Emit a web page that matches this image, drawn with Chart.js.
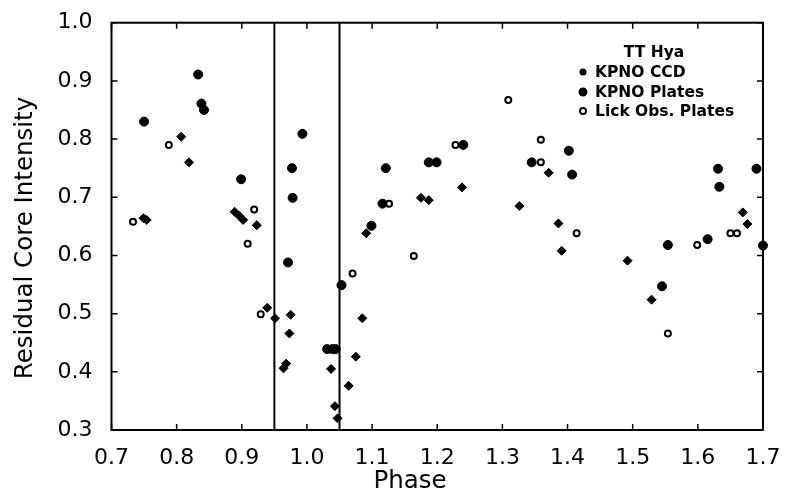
<!DOCTYPE html>
<html>
<head>
<meta charset="utf-8">
<script src="https://cdn.jsdelivr.net/npm/chart.js@4/dist/chart.umd.min.js"></script>
<style>
  html, body { margin: 0; padding: 0; background: #fff; }
  #wrap { width: 787px; height: 501px; }
</style>
</head>
<body>
<div id="wrap"><canvas id="tthya" width="787" height="501"></canvas></div>
<script>
// Datos (fase, intensidad residual del nucleo)
const ccdPhase = [0.749, 0.754, 0.807, 0.819, 0.889, 0.896, 0.902, 0.923, 0.939, 0.951,
  0.975, 0.973, 0.964, 0.968, 1.037, 1.043, 1.047, 1.085, 1.075, 1.064,
  1.091, 1.175, 1.187, 1.238, 1.326, 1.371, 1.386, 1.391, 1.492, 1.529,
  1.669, 1.676];
const ccdIntensity = [0.664, 0.661, 0.804, 0.760, 0.675, 0.668, 0.661, 0.652, 0.510, 0.492,
  0.498, 0.466, 0.406, 0.414, 0.405, 0.341, 0.320, 0.492, 0.426, 0.376,
  0.638, 0.699, 0.695, 0.717, 0.685, 0.742, 0.655, 0.608, 0.591, 0.524,
  0.674, 0.654];

const platePhase = [0.750, 0.833, 0.838, 0.842, 0.899, 0.993, 0.977, 0.978, 0.971, 1.031,
  1.039, 1.044, 1.053, 1.099, 1.121, 1.116, 1.187, 1.199, 1.240, 1.345,
  1.402, 1.407, 1.554, 1.545, 1.615, 1.631, 1.633, 1.690, 1.700];
const plateIntensity = [0.830, 0.911, 0.861, 0.850, 0.731, 0.809, 0.750, 0.699, 0.588, 0.439,
  0.439, 0.439, 0.549, 0.651, 0.750, 0.689, 0.760, 0.760, 0.790, 0.760,
  0.780, 0.739, 0.618, 0.547, 0.628, 0.749, 0.718, 0.749, 0.617];

const lickPhase = [0.733, 0.788, 0.919, 0.909, 0.929, 1.070, 1.126, 1.164, 1.228, 1.309,
  1.359, 1.359, 1.414, 1.554, 1.599, 1.650, 1.660];
const lickIntensity = [0.658, 0.790, 0.679, 0.620, 0.499, 0.569, 0.689, 0.599, 0.790, 0.867,
  0.799, 0.760, 0.638, 0.466, 0.618, 0.638, 0.638];

const seriesNames = ["KPNO CCD", "KPNO Plates", "Lick Obs. Plates"];
const legendTitle = "TT Hya";
const eclipsePhases = [0.95, 1.05]; // lineas verticales
const xTicks = [0.7, 0.8, 0.9, 1.0, 1.1, 1.2, 1.3, 1.4, 1.5, 1.6, 1.7];
const yTicks = [0.3, 0.4, 0.5, 0.6, 0.7, 0.8, 0.9, 1.0];
const xTitle = "Phase";
const yTitle = "Residual Core Intensity";

const FONT = "'DejaVu Sans', sans-serif";

const toPoints = (xs, ys) => xs.map((v, i) => ({ x: v, y: ys[i] }));

// Marco, marcas hacia dentro, titulos y leyenda
const framePlugin = {
  id: "framePlugin",
  afterDraw(chart) {
    const { ctx, chartArea: a, scales } = chart;
    const x = scales.x, y = scales.y;
    ctx.save();
    ctx.strokeStyle = "#000";
    ctx.lineWidth = 2;
    ctx.strokeRect(a.left, a.top, a.right - a.left, a.bottom - a.top);

    ctx.lineWidth = 1.5;
    ctx.beginPath();
    xTicks.forEach(v => {
      const px = x.getPixelForValue(v);
      ctx.moveTo(px, a.bottom); ctx.lineTo(px, a.bottom - 6);
      ctx.moveTo(px, a.top); ctx.lineTo(px, a.top + 6);
    });
    yTicks.forEach(v => {
      const py = y.getPixelForValue(v);
      ctx.moveTo(a.left, py); ctx.lineTo(a.left + 6, py);
      ctx.moveTo(a.right, py); ctx.lineTo(a.right - 6, py);
    });
    ctx.stroke();

    // titulos de los ejes
    ctx.fillStyle = "#000";
    ctx.font = "24.5px " + FONT;
    ctx.textAlign = "center";
    ctx.textBaseline = "alphabetic";
    ctx.fillText(xTitle, 410, 488);
    ctx.save();
    ctx.translate(32, 238);
    ctx.rotate(-Math.PI / 2);
    ctx.fillText(yTitle, 0, 0);
    ctx.restore();

    // leyenda
    ctx.font = "bold 15.5px " + FONT;
    ctx.textAlign = "center";
    ctx.textBaseline = "middle";
    ctx.fillText(legendTitle, 654, 53);
    ctx.textAlign = "left";
    const rows = [72, 92, 111];
    seriesNames.forEach((name, i) => {
      const my = rows[i];
      ctx.beginPath();
      if (i === 0) {
        ctx.arc(583, my, 3.5, 0, Math.PI * 2); ctx.fill();
      } else if (i === 1) {
        ctx.arc(583, my, 4.5, 0, Math.PI * 2); ctx.fill();
      } else {
        ctx.lineWidth = 2;
        ctx.arc(583, my, 3, 0, Math.PI * 2); ctx.stroke();
      }
      ctx.fillText(name, 595, my + 1);
    });
    ctx.restore();
  }
};

const datasets = [
  {
    label: seriesNames[0],
    data: toPoints(ccdPhase, ccdIntensity),
    pointStyle: "rectRot",
    pointRadius: 4.5,
    backgroundColor: "#000",
    borderColor: "#000",
    borderWidth: 1,
    clip: false
  },
  {
    label: seriesNames[1],
    data: toPoints(platePhase, plateIntensity),
    pointStyle: "circle",
    pointRadius: 4.5,
    backgroundColor: "#000",
    borderColor: "#000",
    borderWidth: 1,
    clip: false
  },
  {
    label: seriesNames[2],
    data: toPoints(lickPhase, lickIntensity),
    pointStyle: "circle",
    pointRadius: 3,
    backgroundColor: "#fff",
    borderColor: "#000",
    borderWidth: 2,
    clip: false
  }
];

eclipsePhases.forEach(p => {
  datasets.push({
    type: "line",
    label: "eclipse " + p,
    data: [{ x: p, y: yTicks[0] }, { x: p, y: yTicks[yTicks.length - 1] }],
    borderColor: "#000",
    borderWidth: 2,
    pointRadius: 0,
    fill: false
  });
});

const ctx = document.getElementById("tthya").getContext("2d");
new Chart(ctx, {
  type: "scatter",
  data: { datasets: datasets },
  options: {
    responsive: false,
    animation: false,
    devicePixelRatio: 1,
    layout: { padding: { left: 0, right: 24, top: 22.7, bottom: 0 } },
    plugins: {
      legend: { display: false },
      tooltip: { enabled: false }
    },
    scales: {
      x: {
        type: "linear",
        min: xTicks[0],
        max: xTicks[xTicks.length - 1],
        afterBuildTicks: s => { s.ticks = xTicks.map(v => ({ value: v })); },
        afterFit: s => { s.height = 71; s.paddingLeft = 0; s.paddingRight = 0; },
        grid: { display: false, drawTicks: false },
        border: { display: false },
        ticks: {
          color: "#000",
          padding: 15,
          maxRotation: 0,
          font: { family: FONT, size: 22 },
          callback: v => v.toFixed(1)
        }
      },
      y: {
        type: "linear",
        min: yTicks[0],
        max: yTicks[yTicks.length - 1],
        afterBuildTicks: s => { s.ticks = yTicks.map(v => ({ value: v })); },
        afterFit: s => { s.width = 111.5; s.paddingTop = 0; s.paddingBottom = 0; },
        grid: { display: false, drawTicks: false },
        border: { display: false },
        ticks: {
          color: "#000",
          padding: 19,
          font: { family: FONT, size: 22 },
          callback: v => v.toFixed(1)
        }
      }
    }
  },
  plugins: [framePlugin]
});
</script>
</body>
</html>
